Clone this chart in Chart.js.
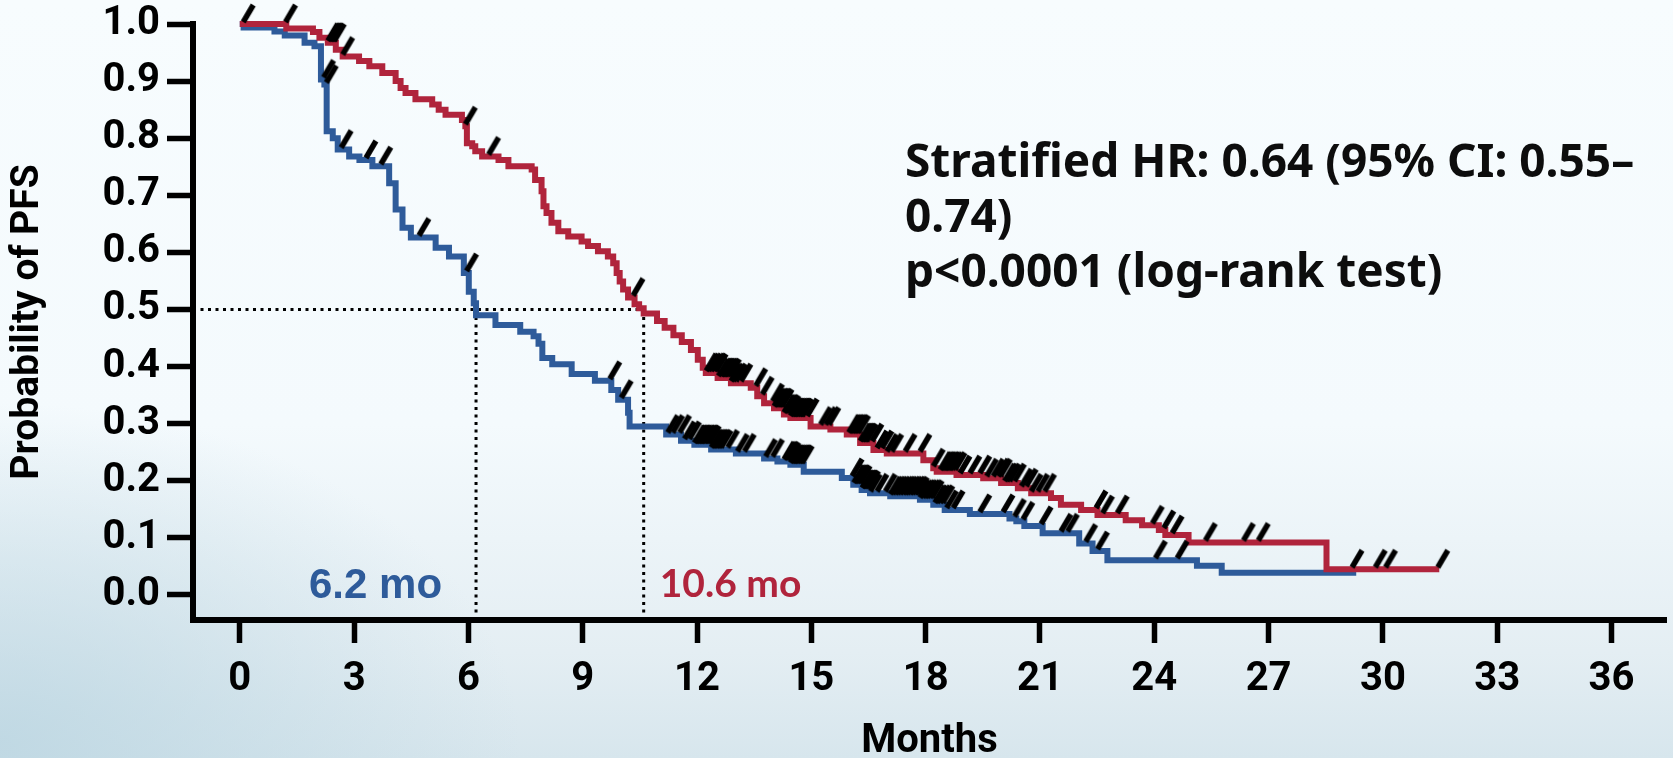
<!DOCTYPE html>
<html>
<head>
<meta charset="utf-8">
<title>PFS</title>
<script src="https://cdn.jsdelivr.net/npm/chart.js"></script>
<style>
  html, body { margin: 0; padding: 0; overflow: hidden; }
  body {
    width: 1673px; height: 758px;
    background:
      radial-gradient(ellipse 520px 340px at 0% 98%, rgba(186, 213, 225, 0.8), rgba(186, 213, 225, 0) 100%),
      linear-gradient(to bottom, #f7fcfe 0%, #f4fafd 56%, #e4eef3 86%, #d7e6ed 100%);
  }
  canvas { display: block; }
</style>
</head>
<body>
<canvas id="km" width="1673" height="758"></canvas>
<script>
// treatment arm: month of each step and the PFS level after it
const redTimes = [0, 1.22, 1.92, 2.09, 2.31, 2.52, 2.70, 3.13, 3.40, 3.74, 4.09, 4.22, 4.35, 4.61, 5.05, 5.22, 5.40, 5.83,
  5.92, 5.96, 6.10, 6.18, 6.36, 6.79, 7.05, 7.66, 7.75, 7.92, 7.97, 8.05, 8.18, 8.36, 8.62, 8.97, 9.14, 9.40, 9.66,
  9.80, 9.89, 9.97, 10.06, 10.19, 10.36, 10.48, 10.6, 10.95, 11.15, 11.38, 11.6, 11.84, 12.02, 12.15, 12.23, 12.54,
  12.89, 13.41, 13.58, 13.76, 14.02, 14.28, 14.45, 14.98, 15.5, 15.93, 16.28, 16.63, 16.98, 17.94, 18.2, 18.29,
  18.81, 19.51, 19.98, 20.42, 20.77, 21.29, 21.55, 22.08, 22.51, 23.25, 23.68, 24.12, 24.29, 24.9, 28.52, 31.48];
const redSurv = [1.0, 0.992, 0.986, 0.976, 0.967, 0.955, 0.943, 0.935, 0.926, 0.914, 0.900, 0.888, 0.879, 0.868, 0.859,
  0.850, 0.841, 0.832, 0.821, 0.791, 0.786, 0.777, 0.768, 0.762, 0.751, 0.745, 0.727, 0.707, 0.681, 0.669, 0.652,
  0.637, 0.628, 0.619, 0.611, 0.602, 0.593, 0.581, 0.564, 0.549, 0.535, 0.521, 0.509, 0.502, 0.493, 0.480, 0.468,
  0.455, 0.443, 0.429, 0.412, 0.398, 0.389, 0.380, 0.371, 0.363, 0.348, 0.336, 0.327, 0.316, 0.310, 0.295, 0.290,
  0.281, 0.266, 0.254, 0.248, 0.236, 0.222, 0.216, 0.210, 0.2045, 0.196, 0.187, 0.178, 0.170, 0.158, 0.149, 0.140,
  0.131, 0.122, 0.114, 0.105, 0.092, 0.045, 0.045];

// control arm
const blueTimes = [0, 0.1, 0.91, 1.18, 1.70, 1.96, 2.13, 2.22, 2.28, 2.44, 2.57, 2.87, 3.14, 3.48, 3.92, 4.09, 4.27,
  4.49, 5.14, 5.49, 5.88, 6.01, 6.14, 6.2, 6.71, 7.36, 7.71, 7.84, 7.94, 8.2, 8.71, 9.32, 9.75, 9.93, 10.19, 10.23,
  11.19, 11.58, 11.93, 12.37, 13.02, 13.76, 14.11, 14.45, 14.8, 15.8, 16.1, 16.32, 16.54, 17.07, 17.85, 18.2, 18.5,
  19.16, 20.2, 20.38, 20.59, 21.07, 22.03, 22.38, 22.77, 25.12, 25.77, 29.3];
const blueSurv = [1.0, 0.994, 0.987, 0.980, 0.967, 0.961, 0.903, 0.894, 0.812, 0.800, 0.780, 0.768, 0.762, 0.751,
  0.721, 0.675, 0.643, 0.626, 0.608, 0.593, 0.564, 0.531, 0.511, 0.490, 0.473, 0.461, 0.453, 0.440, 0.415, 0.404,
  0.387, 0.375, 0.359, 0.342, 0.319, 0.295, 0.281, 0.270, 0.263, 0.255, 0.248, 0.239, 0.234, 0.228, 0.216, 0.205,
  0.193, 0.184, 0.178, 0.173, 0.167, 0.158, 0.149, 0.142, 0.134, 0.129, 0.121, 0.108, 0.090, 0.077, 0.061, 0.051,
  0.039, 0.039];

// censoring times (months)
const redCensor = [0.09, 1.2, 2.31, 2.36, 2.4, 2.44, 2.48, 2.7, 5.92, 6.53, 10.32,
  12.24, 12.3, 12.37, 12.45, 12.5, 12.56, 12.63, 12.67, 12.71, 12.75, 12.8, 12.85, 12.89, 12.95, 13.02, 13.15,
  13.54, 13.71, 13.98, 14.02, 14.06, 14.11, 14.15, 14.19, 14.23, 14.28, 14.32, 14.37, 14.41, 14.45, 14.5, 14.54,
  14.58, 14.63, 14.68, 14.72, 14.76, 14.89, 15.24, 15.37, 15.46,
  15.98, 16.02, 16.07, 16.11, 16.15, 16.2, 16.24, 16.28, 16.33, 16.37, 16.41, 16.45, 16.59, 16.72, 16.85, 16.98,
  17.11, 17.46, 17.85, 18.2, 18.38, 18.42, 18.47, 18.51, 18.55, 18.6, 18.64, 18.7, 18.77, 18.9, 19.16, 19.42, 19.6,
  19.77, 19.9, 19.96, 20.07, 20.13, 20.2, 20.33, 20.51, 20.64, 20.77, 20.94, 21.12,
  22.47, 22.64, 23.03, 23.95, 24.25, 24.47, 25.34, 26.34, 26.73, 29.19, 29.8, 30.07, 31.44];
const blueCensor = [2.2, 2.27, 2.66, 3.31, 3.70, 4.7, 5.95, 9.71, 10.01,
  11.23, 11.36, 11.54, 11.67, 11.8, 11.93, 11.97, 12.02, 12.06, 12.1, 12.14, 12.19, 12.23, 12.28, 12.32, 12.37,
  12.41, 12.45, 12.5, 12.54, 12.58, 12.63, 12.8, 13.06, 13.24, 13.8, 13.98,
  14.28, 14.32, 14.37, 14.41, 14.45, 14.5, 14.54, 14.58, 14.63, 14.68, 14.72, 14.76,
  16.07, 16.11, 16.15, 16.2, 16.24, 16.28, 16.33, 16.37, 16.41, 16.46, 16.5, 16.55, 16.72, 16.94,
  17.07, 17.13, 17.2, 17.26, 17.33, 17.4, 17.46, 17.52, 17.59, 17.65, 17.72, 17.78, 17.85, 17.92, 17.98, 18.04,
  18.11, 18.17, 18.24, 18.3, 18.38, 18.45, 18.55, 18.72, 19.42, 20.03, 20.33, 20.55, 21.03, 21.55, 21.72, 22.2,
  22.51, 24.03, 24.6];

const blueMedian = 6.2;
const redMedian = 10.6;

const xTicks = [0, 3, 6, 9, 12, 15, 18, 21, 24, 27, 30, 33, 36];
const yTicks = [0, 0.1, 0.2, 0.3, 0.4, 0.5, 0.6, 0.7, 0.8, 0.9, 1.0];

const statLines = ['Stratified HR: 0.64 (95% CI: 0.55\u2013', '0.74)', 'p<0.0001 (log-rank test)'];

const xMin = -1.228, xMax = 37.43;
const yMin = -0.0438, yMax = 1.0;

const RED = '#b0243c';
const BLUE = '#2e5b9a';

// level of a step curve at time t
function levelAt(times, surv, t) {
  let v = surv[0];
  for (let i = 0; i < times.length; i++) {
    if (times[i] <= t) v = surv[i];
  }
  return v;
}

const toPoints = (times, surv) => times.map((t, i) => ({ x: t, y: surv[i] }));
const censorPoints = (censor, times, surv) => censor.map(t => ({ x: t, y: levelAt(times, surv, t) }));

// short black slash sitting just above the curve
function slashMark() {
  const c = document.createElement('canvas');
  c.width = 44;
  c.height = 44;
  const g = c.getContext('2d');
  g.strokeStyle = '#000';
  g.lineWidth = 5.5;
  g.beginPath();
  g.moveTo(22, 20);
  g.lineTo(32, 3);
  g.stroke();
  return c;
}
const slash = slashMark();

const axisFont = { family: 'Roboto', size: 40, weight: 'bold' };

const textLayer = {
  id: 'textLayer',
  afterDraw(chart) {
    const { ctx } = chart;
    const x = chart.scales.x, y = chart.scales.y;
    const base = y.getPixelForValue(0);
    ctx.save();
    ctx.textBaseline = 'alphabetic';

    ctx.font = 'bold 42px "Liberation Sans"';
    ctx.fillStyle = BLUE;
    ctx.textAlign = 'right';
    ctx.fillText(blueMedian.toFixed(1) + ' mo', x.getPixelForValue(blueMedian) - 34, base + 3);

    ctx.font = 'bold 39px Lato';
    ctx.fillStyle = RED;
    ctx.textAlign = 'left';
    ctx.fillText(redMedian.toFixed(1) + ' mo', x.getPixelForValue(redMedian) + 16, base + 2);

    ctx.font = 'bold 46px "Noto Sans"';
    ctx.fillStyle = '#0d0d0d';
    statLines.forEach((s, i) => ctx.fillText(s, 905, 177 + i * 55));
    ctx.restore();
  }
};

const guide = (data) => ({
  data,
  borderColor: '#000',
  borderWidth: 3,
  borderDash: [3, 4.5],
  pointRadius: 0,
  fill: false
});

new Chart(document.getElementById('km'), {
  type: 'line',
  data: {
    datasets: [
      {
        data: censorPoints(redCensor, redTimes, redSurv),
        showLine: false, pointStyle: slash, pointRadius: 6, clip: false
      },
      {
        data: censorPoints(blueCensor, blueTimes, blueSurv),
        showLine: false, pointStyle: slash, pointRadius: 6, clip: false
      },
      {
        data: toPoints(redTimes, redSurv),
        borderColor: RED, borderWidth: 6, stepped: 'before', pointRadius: 0, fill: false, clip: false
      },
      {
        data: toPoints(blueTimes, blueSurv),
        borderColor: BLUE, borderWidth: 6, stepped: 'before', pointRadius: 0, fill: false, clip: false
      },
      guide([{ x: xMin, y: 0.5 }, { x: redMedian, y: 0.5 }]),
      guide([{ x: blueMedian, y: 0.5 }, { x: blueMedian, y: yMin }]),
      guide([{ x: redMedian, y: 0.5 }, { x: redMedian, y: yMin }])
    ]
  },
  options: {
    responsive: false,
    animation: false,
    devicePixelRatio: 1,
    layout: { padding: { top: 24, right: 0, bottom: 0, left: 0 } },
    plugins: { legend: { display: false }, tooltip: { enabled: false } },
    scales: {
      x: {
        type: 'linear',
        min: xMin,
        max: xMax,
        afterBuildTicks: s => { s.ticks = xTicks.map(v => ({ value: v })); },
        afterFit: s => { s.height = 138; s.paddingLeft = 0; s.paddingRight = 0; },
        ticks: {
          font: axisFont, color: '#000', padding: 13, autoSkip: false, maxRotation: 0,
          callback: v => String(v)
        },
        grid: { drawOnChartArea: false, drawTicks: true, tickLength: 23, tickWidth: 5.5, tickColor: '#000' },
        border: { display: true, width: 6, color: '#000' },
        title: {
          display: true, text: 'Months', color: '#000',
          font: { family: 'Roboto', size: 40, weight: 'bold', lineHeight: 0.8 },
          padding: { top: 0, bottom: 0 }
        }
      },
      y: {
        type: 'linear',
        min: yMin,
        max: yMax,
        afterBuildTicks: s => { s.ticks = yTicks.map(v => ({ value: v })); },
        afterFit: s => { s.width = 193; s.paddingTop = 0; s.paddingBottom = 0; },
        ticks: {
          font: axisFont, color: '#000', padding: 7, autoSkip: false,
          callback: v => v.toFixed(1)
        },
        grid: { drawOnChartArea: false, drawTicks: true, tickLength: 26, tickWidth: 5.5, tickColor: '#000' },
        border: { display: true, width: 6, color: '#000' },
        title: {
          display: true, text: 'Probability of PFS', color: '#000',
          font: { family: 'Roboto', size: 39, weight: 'bold' },
          padding: { top: 5, bottom: 0 }
        }
      }
    }
  },
  plugins: [textLayer]
});
</script>
</body>
</html>
